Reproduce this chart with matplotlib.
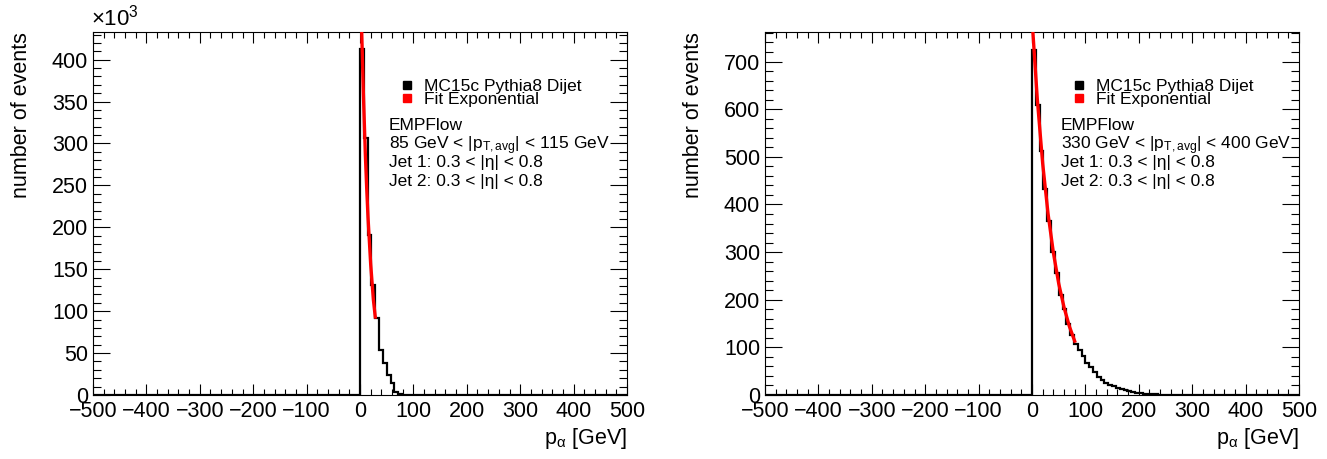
import numpy as np
import matplotlib
matplotlib.use("Agg")
import matplotlib.pyplot as plt
from matplotlib.lines import Line2D

plt.rcParams['font.family'] = ['Liberation Sans', 'DejaVu Sans']
plt.rcParams['mathtext.fontset'] = 'custom'
plt.rcParams['mathtext.rm'] = 'Liberation Sans'
plt.rcParams['mathtext.it'] = 'Liberation Sans'
plt.rcParams['mathtext.default'] = 'regular'

# binning of the p_alpha histograms
x_lo, x_hi, n_bins = -500, 500, 140

# 85 < pT,avg < 115 GeV, counts in units of 10^3, bins from p_alpha = 0 upwards
low_counts = [413, 306, 191, 131, 92, 54, 38, 24, 14, 4, 1.5, 0.5]
low_fit_x = [0, 3, 6.3, 10, 12.5, 15, 20, 25, 28.6]
low_fit_y = [526, 438, 360, 287, 247, 212, 156, 114, 93]
low_label = r"85 GeV < |p$_{T,avg}$| < 115 GeV"

# 330 < pT,avg < 400 GeV
high_counts = [725, 609, 512, 432, 366, 300, 256, 210, 181, 149, 127,
               108, 95, 82, 68, 58, 49, 38, 31, 26, 22, 18, 15, 12, 10,
               8, 6, 5, 4, 3, 2.5, 2, 1.2, 0.7, 0.4]
high_fit_x = [0, 10, 20, 30, 40, 50, 60, 70, 80]
high_fit_y = [790, 620, 486, 381, 299, 234, 184, 144, 113]
high_label = r"330 GeV < |p$_{T,avg}$| < 400 GeV"

edges = np.linspace(x_lo, x_hi, n_bins + 1)
zero_bin = int(np.searchsorted(edges, 0))


def draw(ax, counts, fit_x, fit_y, ymax, ymajor, yminor, pt_text):
    vals = np.zeros(n_bins)
    vals[zero_bin:zero_bin + len(counts)] = counts
    ax.stairs(vals, edges, color='black', lw=1.6, zorder=3)
    ax.plot(fit_x, fit_y, color='red', lw=2.4, zorder=4)

    ax.set_xlim(x_lo, x_hi)
    ax.set_ylim(0, ymax)
    ax.set_xticks(np.arange(-500, 501, 100))
    ax.set_xticks(np.arange(-500, 501, 20), minor=True)
    ax.set_yticks(np.arange(0, ymax, ymajor))
    ax.set_yticks(np.arange(0, ymax, yminor), minor=True)
    ax.tick_params(which='both', direction='in', top=True, right=True,
                   labelsize=15.5, width=0.8)
    ax.tick_params(axis='y', which='major', length=12)
    ax.tick_params(axis='y', which='minor', length=6)
    ax.tick_params(axis='x', which='major', length=8)
    ax.tick_params(axis='x', which='minor', length=4)
    ax.tick_params(axis='x', pad=4)
    for s in ax.spines.values():
        s.set_linewidth(0.8)

    ax.set_ylabel('number of events', fontsize=15.5, loc='top')
    ax.yaxis.set_label_coords(-0.114, 1.0)
    ax.set_xlabel(r"p$_{\alpha}$ [GeV]", fontsize=15.5, loc='right')
    ax.xaxis.set_label_coords(1.0, -0.085)

    handles = [Line2D([], [], ls='none', marker='s', color='black', markersize=6),
               Line2D([], [], ls='none', marker='s', color='red', markersize=6)]
    ax.legend(handles, ['MC15c Pythia8 Dijet', 'Fit Exponential'],
              loc='upper left', bbox_to_anchor=(0.575, 0.87), frameon=False,
              fontsize=12.5, labelspacing=-0.12, handlelength=0.8,
              handletextpad=0.6, borderpad=0, borderaxespad=0)

    lines = ['EMPFlow', pt_text, r"Jet 1: 0.3 < |η| < 0.8", r"Jet 2: 0.3 < |η| < 0.8"]
    for txt, yb in zip(lines, [0.729, 0.678, 0.627, 0.575]):
        ax.text(0.554, yb, txt, transform=ax.transAxes, fontsize=12.5,
                va='baseline', ha='left')


fig = plt.figure(figsize=(13.27, 4.59), dpi=100)
ax1 = fig.add_axes([93 / 1327, 64 / 459, 534 / 1327, 363 / 459])
ax2 = fig.add_axes([765 / 1327, 64 / 459, 534 / 1327, 363 / 459])

draw(ax1, low_counts, low_fit_x, low_fit_y, 433, 50, 10, low_label)
ax1.text(-0.003, 1.017, r"$\times10^{3}$", transform=ax1.transAxes,
         fontsize=16, ha='left', va='baseline')
draw(ax2, high_counts, high_fit_x, high_fit_y, 762, 100, 20, high_label)

fig.savefig('out.png', dpi=100)
